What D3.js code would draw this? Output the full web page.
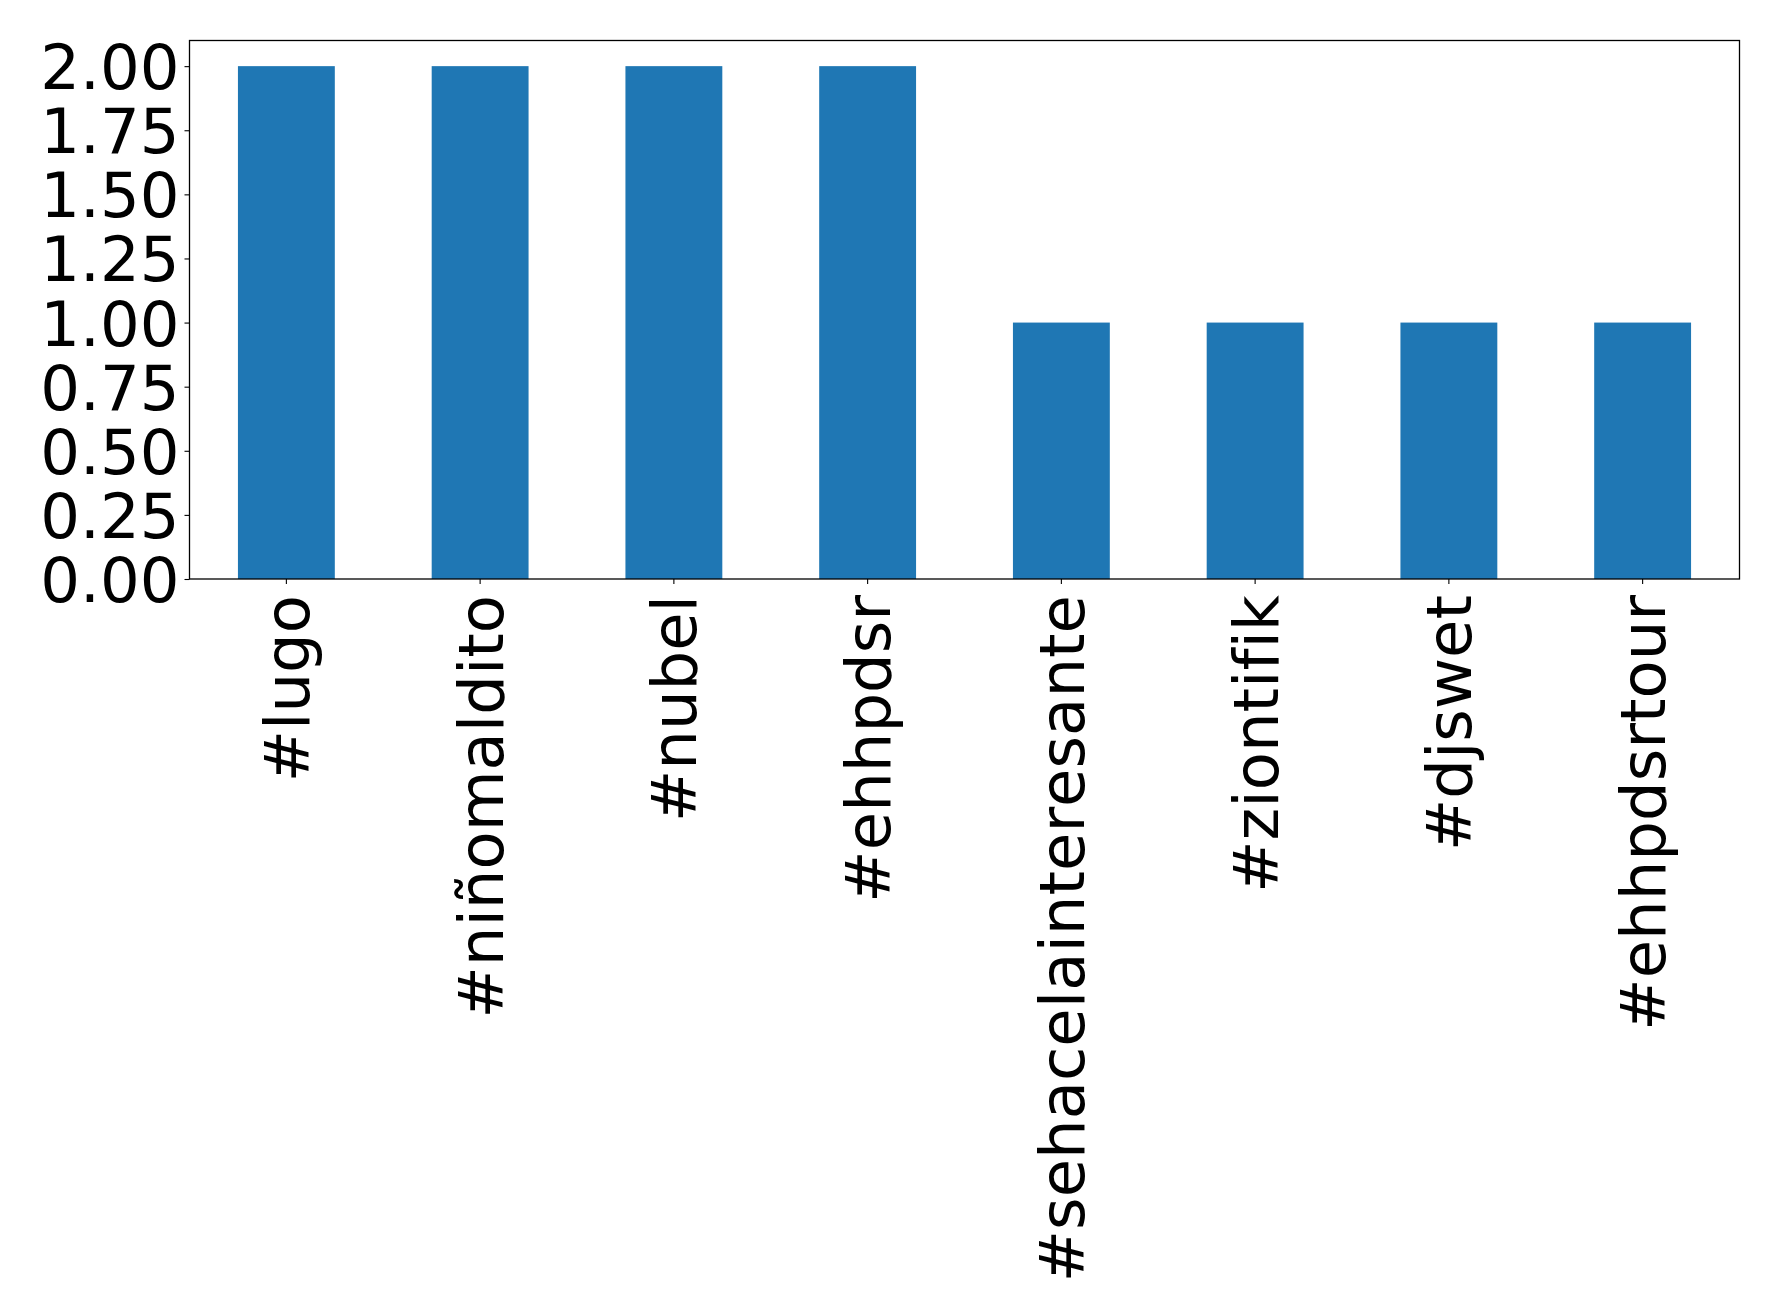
<!DOCTYPE html>
<html><head><meta charset="utf-8">
<script src="https://cdn.jsdelivr.net/npm/d3@7"></script>
<style>body{margin:0;background:#fff} text{font-variant-ligatures:none;font-kerning:none}</style>
</head><body>
<svg id="c" width="1778" height="1314"></svg>
<script>
const categories = ["#lugo","#niñomaldito","#nubel","#ehhpdsr","#sehacelainteresante","#ziontifik","#djswet","#ehhpdsrtour"];
const values = [2,2,2,2,1,1,1,1];
const yTicks = [0,0.25,0.5,0.75,1,1.25,1.5,1.75,2];

const svg = d3.select("#c");
const L = 189.5, R = 1739.5, T = 40.5, B = 579;
const x = d3.scaleBand().domain(categories).range([L, R]).paddingInner(0.5).paddingOuter(0.25);
const y = d3.scaleLinear().domain([0, 2.1]).range([B, T]);
const font = "DejaVu Sans";
const fs = 62.5;

svg.append("g").selectAll("rect").data(values).join("rect")
  .attr("x", (d,i) => x(categories[i]))
  .attr("width", x.bandwidth())
  .attr("y", d => y(d))
  .attr("height", d => y(0) - y(d))
  .attr("fill", "#1f77b4");

const ya = svg.append("g").attr("transform", `translate(${L},0)`)
  .call(d3.axisLeft(y).tickValues(yTicks).tickFormat(d3.format(".2f")).tickSize(5).tickPadding(5));
const xa = svg.append("g").attr("transform", `translate(0,${B})`)
  .call(d3.axisBottom(x).tickSize(5).tickPadding(5));
[ya, xa].forEach(a => {
  a.select(".domain").remove();
  a.selectAll("line").attr("stroke", "#000").attr("stroke-width", 1.1);
  a.selectAll("text").attr("fill", "#000").style("font-family", font).style("font-size", fs + "px");
});
ya.selectAll("text").attr("dy", "0.36em");
xa.selectAll("text")
  .attr("transform", "rotate(-90)")
  .attr("text-anchor", "end")
  .attr("x", -16).attr("y", 0).attr("dy", "0.36em");

svg.append("rect").attr("x", L).attr("y", T).attr("width", R - L).attr("height", B - T)
  .attr("fill", "none").attr("stroke", "#000").attr("stroke-width", 1.3);
</script>
</body></html>
